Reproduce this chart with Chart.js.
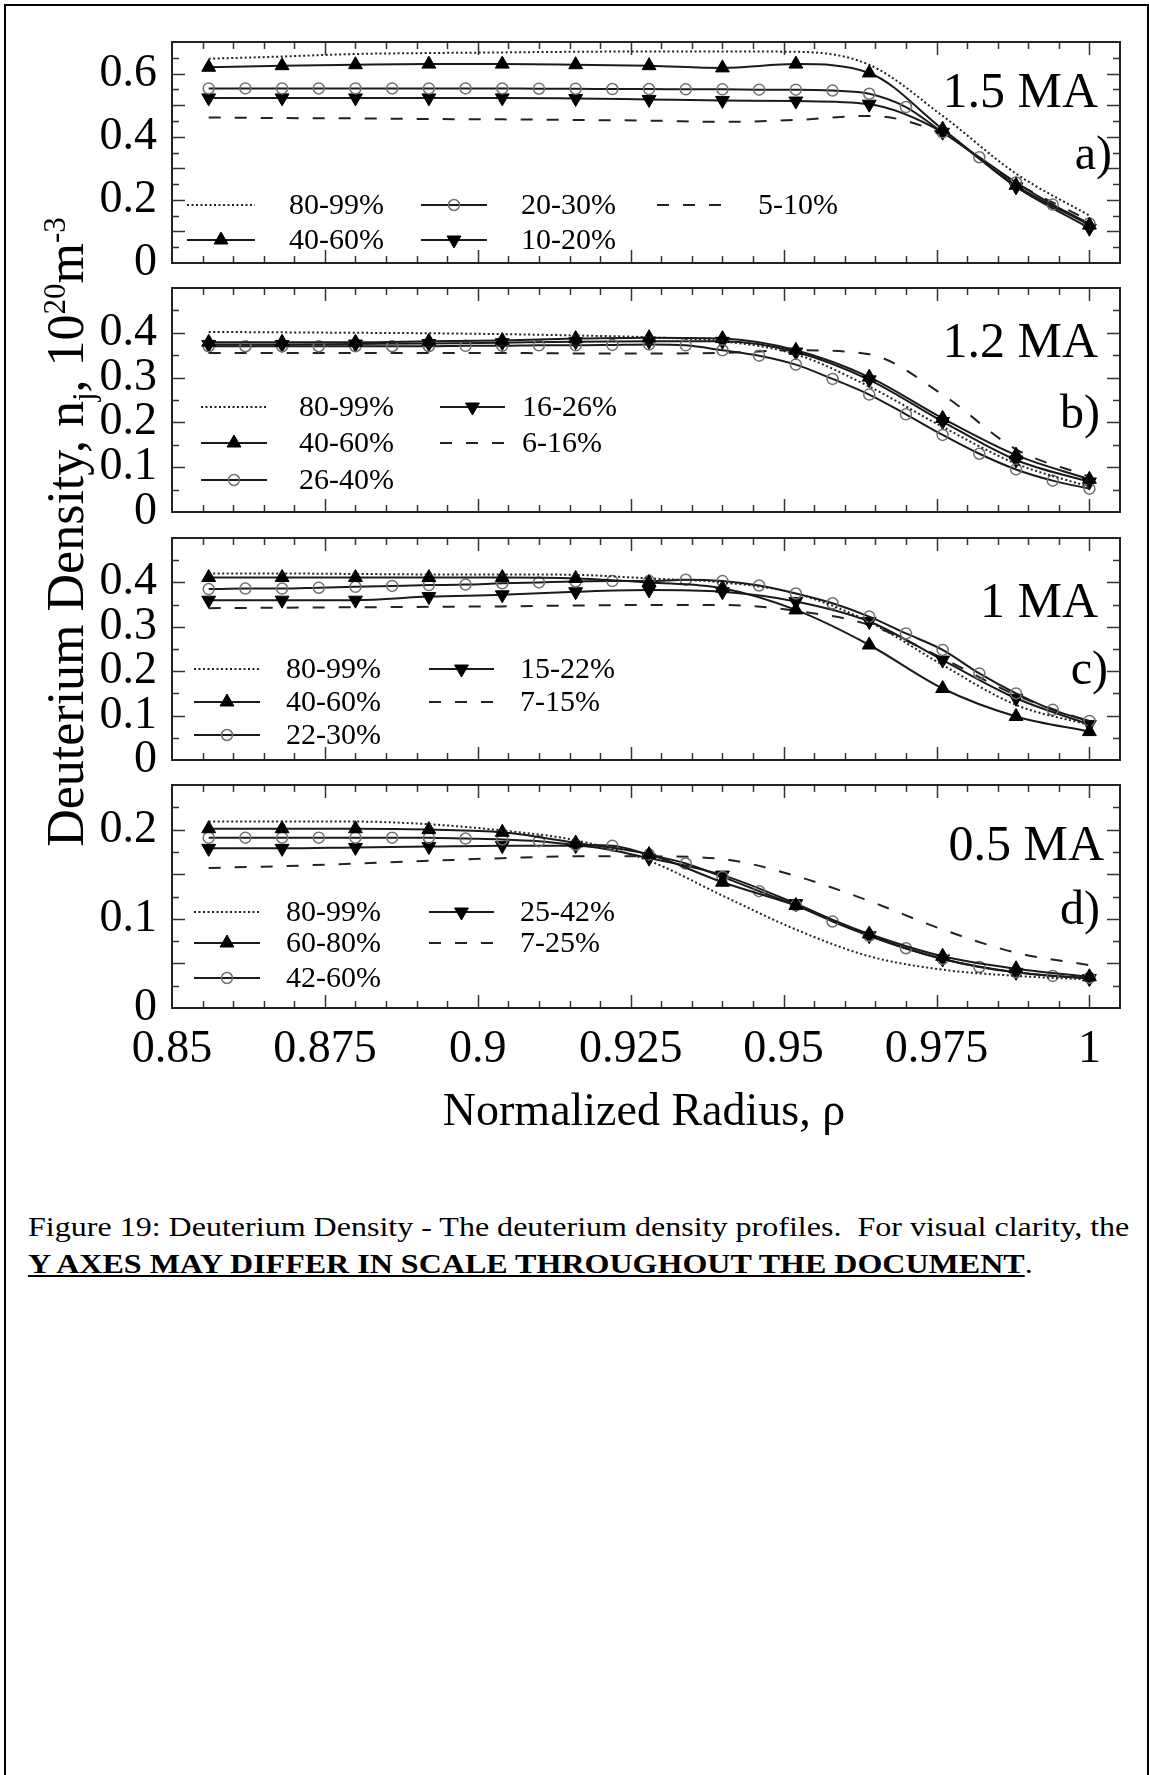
<!DOCTYPE html>
<html>
<head>
<meta charset="utf-8">
<script src="https://cdn.jsdelivr.net/npm/chart.js@4.4.1/dist/chart.umd.min.js"></script>
<style>
body { margin: 0; background: #fff; }
#page { position: relative; width: 1149px; height: 1775px; overflow: hidden;
        font-family: "Liberation Serif", "Times New Roman", serif; color: #000; }
#page canvas { position: absolute; left: 0; }
#frame { position: absolute; left: 4px; top: 4px; width: 1141px; height: 1780px;
         border-left: 2px solid #000; border-top: 2px solid #000; border-right: 2px solid #000; }
.tag { position: absolute; white-space: nowrap; line-height: 1; text-align: right; }
#ytitle { position: absolute; white-space: nowrap; line-height: 1; font-size: 52px;
          width: 760px; text-align: center; transform: rotate(-90deg); }
#ytitle sub, #ytitle sup { font-size: 31px; line-height: 0; }
#xtitle { position: absolute; white-space: nowrap; line-height: 1; font-size: 46px;
          width: 600px; text-align: center; }
#caption { position: absolute; left: 28px; top: 1208px; font-size: 28px; line-height: 37px; white-space: nowrap;
           transform: scaleX(1.144); transform-origin: 0 0; }
</style>
</head>
<body>
<div id="page">
  <div id="frame"></div>
  <canvas id="panelA"></canvas>
  <canvas id="panelB"></canvas>
  <canvas id="panelC"></canvas>
  <canvas id="panelD"></canvas>
  <div id="ytitle">Deuterium Density, n<sub>j</sub>, 10<sup>20</sup>m<sup>-3</sup></div>
  <div id="xtitle">Normalized Radius, ρ</div>
  <div id="caption">Figure 19: Deuterium Density - The deuterium density profiles.&nbsp; For visual clarity, the<br><b><u>Y AXES MAY DIFFER IN SCALE THROUGHOUT THE DOCUMENT</u></b>.</div>
</div>
<script>
// radius grids (markers every 0.012, open circles every 0.006)
const rho13 = [0.856, 0.868, 0.880, 0.892, 0.904, 0.916, 0.928, 0.940, 0.952, 0.964, 0.976, 0.988, 1.000];
const rho25 = [0.856, 0.862, 0.868, 0.874, 0.880, 0.886, 0.892, 0.898, 0.904, 0.910, 0.916, 0.922, 0.928,
               0.934, 0.940, 0.946, 0.952, 0.958, 0.964, 0.970, 0.976, 0.982, 0.988, 0.994, 1.000];

// a) 1.5 MA
const a_80_99 = [0.647, 0.654, 0.662, 0.665, 0.667, 0.669, 0.670, 0.670, 0.669, 0.628, 0.466, 0.283, 0.150];
const a_40_60 = [0.620, 0.625, 0.628, 0.630, 0.630, 0.628, 0.625, 0.618, 0.630, 0.602, 0.424, 0.246, 0.120];
const a_20_30 = [0.553, 0.553, 0.553, 0.553, 0.553, 0.553, 0.553, 0.553, 0.553, 0.552, 0.552, 0.551, 0.551,
                 0.550, 0.550, 0.549, 0.549, 0.546, 0.536, 0.494, 0.414, 0.335, 0.255, 0.185, 0.125];
const a_10_20 = [0.523, 0.523, 0.523, 0.523, 0.523, 0.521, 0.518, 0.515, 0.513, 0.503, 0.414, 0.241, 0.110];
const a_5_10  = [0.461, 0.459, 0.458, 0.456, 0.455, 0.453, 0.451, 0.447, 0.453, 0.466, 0.408, 0.254, 0.134];

// b) 1.2 MA
const b_80_99 = [0.402, 0.401, 0.400, 0.399, 0.397, 0.394, 0.390, 0.381, 0.352, 0.280, 0.190, 0.108, 0.056];
const b_40_60 = [0.379, 0.379, 0.379, 0.381, 0.383, 0.387, 0.389, 0.387, 0.361, 0.301, 0.209, 0.127, 0.073];
const b_26_40 = [0.370, 0.370, 0.370, 0.370, 0.370, 0.370, 0.370, 0.371, 0.371, 0.372, 0.372, 0.373, 0.374,
                 0.372, 0.361, 0.349, 0.329, 0.297, 0.262, 0.218, 0.172, 0.130, 0.095, 0.070, 0.052];
const b_16_26 = [0.374, 0.374, 0.375, 0.376, 0.378, 0.380, 0.381, 0.381, 0.357, 0.295, 0.202, 0.116, 0.067];
const b_6_16  = [0.355, 0.355, 0.355, 0.355, 0.355, 0.354, 0.354, 0.355, 0.361, 0.352, 0.262, 0.140, 0.079];

// c) 1 MA
const c_80_99 = [0.420, 0.420, 0.419, 0.418, 0.418, 0.417, 0.409, 0.400, 0.375, 0.311, 0.214, 0.124, 0.079];
const c_40_60 = [0.411, 0.411, 0.411, 0.411, 0.411, 0.409, 0.400, 0.387, 0.338, 0.259, 0.161, 0.098, 0.064];
const c_22_30 = [0.385, 0.386, 0.386, 0.388, 0.390, 0.392, 0.394, 0.395, 0.398, 0.400, 0.402, 0.403, 0.403,
                 0.406, 0.403, 0.393, 0.375, 0.353, 0.323, 0.285, 0.248, 0.195, 0.150, 0.113, 0.088];
const c_15_22 = [0.360, 0.360, 0.360, 0.368, 0.372, 0.379, 0.383, 0.379, 0.357, 0.312, 0.225, 0.139, 0.080];
const c_7_15  = [0.342, 0.343, 0.344, 0.345, 0.346, 0.348, 0.349, 0.349, 0.336, 0.304, 0.229, 0.146, 0.086];

// d) 0.5 MA
const d_80_99 = [0.209, 0.209, 0.209, 0.206, 0.199, 0.188, 0.165, 0.126, 0.088, 0.058, 0.043, 0.036, 0.032];
const d_60_80 = [0.201, 0.201, 0.201, 0.200, 0.197, 0.185, 0.172, 0.141, 0.115, 0.083, 0.058, 0.044, 0.035];
const d_42_60 = [0.191, 0.191, 0.191, 0.191, 0.191, 0.191, 0.191, 0.190, 0.189, 0.187, 0.183, 0.182, 0.172,
                 0.162, 0.147, 0.131, 0.115, 0.097, 0.081, 0.067, 0.055, 0.046, 0.040, 0.036, 0.034];
const d_25_42 = [0.179, 0.179, 0.180, 0.181, 0.182, 0.182, 0.168, 0.149, 0.117, 0.081, 0.055, 0.040, 0.033];
const d_7_25  = [0.157, 0.159, 0.162, 0.165, 0.168, 0.170, 0.170, 0.167, 0.148, 0.120, 0.088, 0.062, 0.048];

const pts = (xs, ys) => xs.map((x, i) => ({ x: x, y: ys[i] }));

const INK = '#1a1a1a';
const SERIF = '"Liberation Serif", "Times New Roman", serif';

function dotted(label, xs, ys) {
    return { label, data: pts(xs, ys), borderColor: '#222', borderWidth: 2, borderDash: [2, 2.5],
             pointRadius: 0, cubicInterpolationMode: 'monotone' };
}
function dashed(label, xs, ys) {
    return { label, data: pts(xs, ys), borderColor: '#222', borderWidth: 2, borderDash: [12, 14],
             pointRadius: 0, cubicInterpolationMode: 'monotone' };
}
function triUp(label, xs, ys) {
    return { label, data: pts(xs, ys), borderColor: INK, borderWidth: 2, pointStyle: 'triangle',
             pointRotation: 0, pointRadius: 8, pointBackgroundColor: '#000', pointBorderColor: '#000',
             pointBorderWidth: 1, cubicInterpolationMode: 'monotone' };
}
function triDown(label, xs, ys) {
    const ds = triUp(label, xs, ys);
    ds.pointRotation = 180;
    return ds;
}
function ring(label, xs, ys) {
    return { label, data: pts(xs, ys), borderColor: INK, borderWidth: 2, pointStyle: 'circle',
             pointRadius: 5.5, pointBackgroundColor: 'rgba(0,0,0,0)', pointBorderColor: '#707070',
             pointBorderWidth: 1.5, cubicInterpolationMode: 'monotone' };
}

const isMult = (v, s) => Math.abs(v / s - Math.round(v / s)) < 1e-6;

// inward tick marks on all four sides plus the box
const frameTicks = {
    id: 'frameTicks',
    afterDatasetsDraw(chart, args, opts) {
        const { ctx, chartArea: a } = chart;
        const x = chart.scales.x, y = chart.scales.y;
        ctx.save();
        ctx.strokeStyle = '#333';
        ctx.lineWidth = 1.5;
        ctx.beginPath();
        x.ticks.forEach(t => {
            if (t.value <= x.min + 1e-9 || t.value >= x.max - 1e-9) return;
            const px = Math.round(x.getPixelForValue(t.value)) + 0.5;
            const len = isMult(t.value, 0.025) ? 13 : 7;
            ctx.moveTo(px, a.bottom); ctx.lineTo(px, a.bottom - len);
            ctx.moveTo(px, a.top); ctx.lineTo(px, a.top + len);
        });
        y.ticks.forEach(t => {
            if (t.value <= y.min + 1e-9 || t.value >= y.max - 1e-9) return;
            const py = Math.round(y.getPixelForValue(t.value)) + 0.5;
            const len = isMult(t.value, opts.major) ? 13 : 7;
            ctx.moveTo(a.left, py); ctx.lineTo(a.left + len, py);
            ctx.moveTo(a.right, py); ctx.lineTo(a.right - len, py);
        });
        ctx.stroke();
        ctx.lineWidth = 2;
        ctx.strokeStyle = '#222';
        ctx.strokeRect(a.left, a.top, a.right - a.left, a.bottom - a.top);
        ctx.restore();
    }
};

// in-panel legend drawn from the dataset styles
const panelLegend = {
    id: 'panelLegend',
    afterDraw(chart, args, opts) {
        const ctx = chart.ctx;
        ctx.save();
        ctx.font = '30px ' + SERIF;
        ctx.textBaseline = 'middle';
        ctx.fillStyle = '#000';
        opts.items.forEach(it => {
            const ds = chart.data.datasets[it[0]];
            const col = opts.cols[it[1]], yy = opts.rows[it[2]] - opts.offset;
            ctx.strokeStyle = ds.borderColor;
            ctx.lineWidth = ds.borderWidth;
            ctx.setLineDash(ds.borderDash || []);
            ctx.beginPath();
            ctx.moveTo(col[0], yy); ctx.lineTo(col[1], yy);
            ctx.stroke();
            ctx.setLineDash([]);
            if (ds.pointRadius > 0) {
                ctx.fillStyle = ds.pointBackgroundColor;
                ctx.strokeStyle = ds.pointBorderColor;
                ctx.lineWidth = ds.pointBorderWidth;
                Chart.helpers.drawPoint(ctx, { pointStyle: ds.pointStyle, rotation: ds.pointRotation || 0,
                    radius: ds.pointRadius, borderWidth: ds.pointBorderWidth }, (col[0] + col[1]) / 2, yy);
            }
            ctx.fillStyle = '#000';
            ctx.fillText(ds.label, col[2], yy + 1);
        });
        ctx.restore();
    }
};

const PAD = 24;
const panels = [
    { id: 'panelA', top: 42, bottom: 263, ymax: 0.7, minor: 0.05, major: 0.1, every: 0.2, xlabels: false,
      datasets: [dotted('80-99%', rho13, a_80_99), triUp('40-60%', rho13, a_40_60), ring('20-30%', rho25, a_20_30),
                 triDown('10-20%', rho13, a_10_20), dashed('5-10%', rho13, a_5_10)],
      legend: { rows: [205, 240], cols: [[187, 255, 289], [421, 487, 521], [657, 725, 758]],
                items: [[0, 0, 0], [1, 0, 1], [2, 1, 0], [3, 1, 1], [4, 2, 0]] },
      tag: ['1.5 MA', 1098, 90], letter: ['a)', 1112, 153] },
    { id: 'panelB', top: 288, bottom: 512, ymax: 0.5, minor: 0.05, major: 0.1, every: 0.1, xlabels: false,
      datasets: [dotted('80-99%', rho13, b_80_99), triUp('40-60%', rho13, b_40_60), ring('26-40%', rho25, b_26_40),
                 triDown('16-26%', rho13, b_16_26), dashed('6-16%', rho13, b_6_16)],
      legend: { rows: [407, 443, 480], cols: [[201, 267, 299], [440, 505, 522]],
                items: [[0, 0, 0], [1, 0, 1], [2, 0, 2], [3, 1, 0], [4, 1, 1]] },
      tag: ['1.2 MA', 1098, 340], letter: ['b)', 1100, 412] },
    { id: 'panelC', top: 538, bottom: 760, ymax: 0.5, minor: 0.05, major: 0.1, every: 0.1, xlabels: false,
      datasets: [dotted('80-99%', rho13, c_80_99), triUp('40-60%', rho13, c_40_60), ring('22-30%', rho25, c_22_30),
                 triDown('15-22%', rho13, c_15_22), dashed('7-15%', rho13, c_7_15)],
      legend: { rows: [669, 702, 735], cols: [[194, 260, 286], [429, 494, 520]],
                items: [[0, 0, 0], [1, 0, 1], [2, 0, 2], [3, 1, 0], [4, 1, 1]] },
      tag: ['1 MA', 1098, 600], letter: ['c)', 1108, 668] },
    { id: 'panelD', top: 785, bottom: 1008, ymax: 0.25, minor: 0.025, major: 0.05, every: 0.1, xlabels: true,
      datasets: [dotted('80-99%', rho13, d_80_99), triUp('60-80%', rho13, d_60_80), ring('42-60%', rho25, d_42_60),
                 triDown('25-42%', rho13, d_25_42), dashed('7-25%', rho13, d_7_25)],
      legend: { rows: [912, 943, 978], cols: [[194, 260, 286], [429, 494, 520]],
                items: [[0, 0, 0], [1, 0, 1], [2, 0, 2], [3, 1, 0], [4, 1, 1]] },
      tag: ['0.5 MA', 1104, 843], letter: ['d)', 1100, 908] }
];

const page = document.getElementById('page');
function addTag(text, right, cy, size) {
    const el = document.createElement('div');
    el.className = 'tag';
    el.textContent = text;
    el.style.fontSize = size + 'px';
    el.style.right = (1149 - right) + 'px';
    el.style.top = (cy - size * 0.5) + 'px';
    page.appendChild(el);
}

panels.forEach(p => {
    const canvas = document.getElementById(p.id);
    const padBottom = p.xlabels ? 110 : PAD;
    const offset = p.top - PAD;
    canvas.width = 1149;
    canvas.height = (p.bottom - p.top) + PAD + padBottom;
    canvas.style.top = offset + 'px';
    p.legend.offset = offset;

    new Chart(canvas.getContext('2d'), {
        type: 'line',
        data: { datasets: p.datasets },
        options: {
            responsive: false,
            animation: false,
            devicePixelRatio: 1,
            layout: { padding: { top: PAD, right: 29, bottom: p.xlabels ? 20 : PAD, left: 0 } },
            plugins: {
                legend: { display: false },
                tooltip: { enabled: false },
                frameTicks: { major: p.major },
                panelLegend: p.legend
            },
            scales: {
                x: {
                    type: 'linear', min: 0.85, max: 1.005,
                    grid: { display: false, drawTicks: false },
                    border: { display: false },
                    ticks: {
                        display: p.xlabels, stepSize: 0.005, autoSkip: false, maxRotation: 0,
                        padding: 14, color: '#000', font: { family: SERIF, size: 46 },
                        callback: v => (isMult(v, 0.025) && v <= 1.0001) ? String(+v.toFixed(4)) : ''
                    },
                    afterFit: s => {
                        s.height = p.xlabels ? 90 : 0;
                        s.paddingLeft = 0; s.paddingRight = 0;
                    }
                },
                y: {
                    min: 0, max: p.ymax,
                    grid: { display: false, drawTicks: false },
                    border: { display: false },
                    ticks: {
                        stepSize: p.minor, autoSkip: false, padding: 15, color: '#000',
                        font: { family: SERIF, size: 46 },
                        callback: v => (isMult(v, p.every) && v < p.ymax - 1e-9) ? String(+v.toFixed(3)) : ''
                    },
                    afterFit: s => {
                        s.width = 172;
                        s.paddingTop = 0; s.paddingBottom = 0;
                    }
                }
            }
        },
        plugins: [frameTicks, panelLegend]
    });

    addTag(p.tag[0], p.tag[1], p.tag[2], 50);
    addTag(p.letter[0], p.letter[1], p.letter[2], 48);
});

// axis titles
const yt = document.getElementById('ytitle');
yt.style.left = (66 - 380) + 'px';
yt.style.top = (532 - 26) + 'px';
const xt = document.getElementById('xtitle');
xt.style.left = (644 - 300) + 'px';
xt.style.top = (1110 - 23) + 'px';
</script>
</body>
</html>
